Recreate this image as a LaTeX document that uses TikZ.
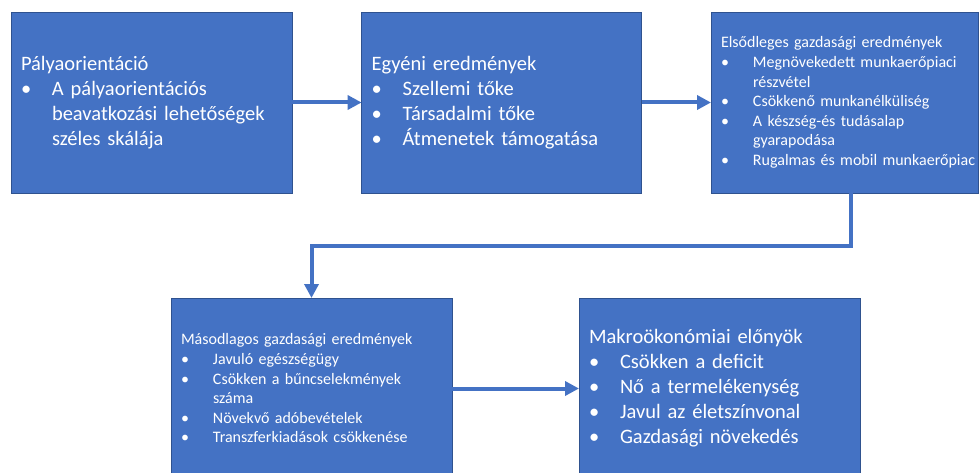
\documentclass[tikz,border=0pt]{standalone}
\usepackage{fontspec}
\setmainfont{Carlito}
\usetikzlibrary{arrows.meta}
\definecolor{boxfill}{HTML}{4472C4}
\definecolor{boxline}{HTML}{2F528F}
\newcommand\bbul[1]{\mbox{\makebox[31pt][l]{•}#1}}
\newcommand\bcont[1]{\mbox{\hspace*{31pt}#1}}
\newcommand\sbul[1]{\mbox{\makebox[32pt][l]{•}#1}}
\newcommand\scont[1]{\mbox{\hspace*{32pt}#1}}
\begin{document}
\begin{tikzpicture}[x=1pt,y=-1pt,
  box/.style={draw=boxline,line width=0.8pt,fill=boxfill,text=white,
    minimum height=181pt,inner xsep=10pt,inner ysep=0pt,outer sep=0pt,align=left,anchor=center},
  big/.style={font=\fontsize{20.5}{25}\selectfont},
  small/.style={font=\fontsize{16}{19.6}\selectfont},
  arr/.style={draw=boxfill,line width=4pt,-{Triangle[length=14pt,width=14pt]}}]
\useasboundingbox (0,0) rectangle (979,473);
\clip (0,0) rectangle (979,473);
\node[box,big,text width=261pt] (b1) at (151.5,102.5)
  {Pályaorientáció\\
   \bbul{A pályaorientációs}\\
   \bcont{beavatkozási lehetőségek}\\
   \bcont{széles skálája}};
\node[box,big,text width=260pt] (b2) at (501.6,102.5)
  {Egyéni eredmények\\
   \bbul{Szellemi tőke}\\
   \bbul{Társadalmi tőke}\\
   \bbul{Átmenetek támogatása}};
\node[box,small,text width=247pt] (b3) at (844.5,102.5)
  {\mbox{Elsődleges gazdasági eredmények}\\
   \sbul{Megnövekedett munkaerőpiaci}\\
   \scont{részvétel}\\
   \sbul{Csökkenő munkanélküliség}\\
   \sbul{A készség-és tudásalap}\\
   \scont{gyarapodása}\\
   \sbul{Rugalmas és mobil munkaerőpiac}};
\node[box,small,text width=261pt] (b4) at (311.5,388.5)
  {\mbox{Másodlagos gazdasági eredmények}\\
   \sbul{Javuló egészségügy}\\
   \sbul{Csökken a bűncselekmények}\\
   \scont{száma}\\
   \sbul{Növekvő adóbevételek}\\
   \sbul{Transzferkiadások csökkenése}};
\node[box,big,text width=261pt] (b5) at (719.5,388.5)
  {Makroökonómiai előnyök\\
   \bbul{Csökken a deficit}\\
   \bbul{Nő a termelékenység}\\
   \bbul{Javul az életszínvonal}\\
   \bbul{Gazdasági növekedés}};
\coordinate (c1) at (851,246);
\draw[arr] (b1.east) -- (b2.west);
\draw[arr] (b2.east) -- (b3.west);
\draw[arr] (b3.south -| c1) -- (c1) -| (b4.north);
\draw[arr] (b4.east) -- (b5.west);
\end{tikzpicture}
\end{document}
